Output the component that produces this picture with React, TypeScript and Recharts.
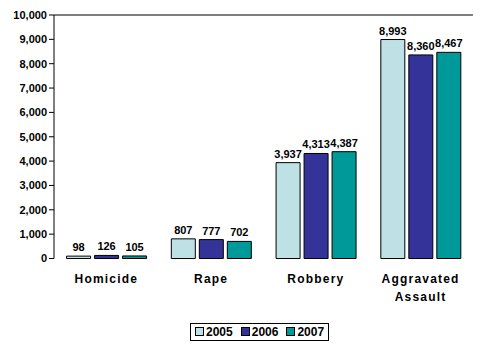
import React from 'react';
import {
  BarChart,
  Bar,
  XAxis,
  YAxis,
  Legend,
  LabelList,
  ReferenceLine,
  Text
} from 'recharts';

const categories = ['Homicide', 'Rape', 'Robbery', 'Aggravated Assault'];
const values2005 = [98, 807, 3937, 8993];
const values2006 = [126, 777, 4313, 8360];
const values2007 = [105, 702, 4387, 8467];
const yTicks = [0, 1000, 2000, 3000, 4000, 5000, 6000, 7000, 8000, 9000, 10000];
const edgeTicks = [0, 1, 2, 3, 4];

const series = [
  { key: 'y2005', name: '2005', color: '#BDE1E4' },
  { key: 'y2006', name: '2006', color: '#333399' },
  { key: 'y2007', name: '2007', color: '#009999' }
];

const data = categories.map((c, i) => ({
  category: c,
  y2005: values2005[i],
  y2006: values2006[i],
  y2007: values2007[i]
}));

const FONT = '"Liberation Sans", Arial, sans-serif';
const fmt = (v: number) => v.toLocaleString('en-US');

const CategoryTick = (props: any) => {
  const { x, y, payload } = props;
  return (
    <Text
      x={x}
      y={y + 8}
      width={90}
      textAnchor="middle"
      verticalAnchor="start"
      lineHeight={18}
      style={{ fontFamily: FONT, fontSize: 12, fontWeight: 'bold', letterSpacing: 1.2 }}
      fill="#000"
    >
      {payload.value}
    </Text>
  );
};

const LegendBox = () => (
  <div
    style={{
      display: 'inline-flex',
      alignItems: 'center',
      border: '1px solid #000',
      padding: '1px 4px',
      fontFamily: FONT,
      fontSize: 12,
      fontWeight: 'bold',
      background: '#fff'
    }}
  >
    {series.map((s, i) => (
      <span key={s.key} style={{ display: 'inline-flex', alignItems: 'center', marginLeft: i ? 8 : 0 }}>
        <span style={{ width: 7, height: 7, background: s.color, border: '1px solid #000', marginRight: 2 }} />
        {s.name}
      </span>
    ))}
  </div>
);

export default function App() {
  return (
    <div style={{ position: 'absolute', left: 0, top: 0, width: 500, height: 350, background: '#fff' }}>
      <BarChart
        width={500}
        height={350}
        data={data}
        margin={{ top: 15, right: 27, left: 0, bottom: 28 }}
        barGap={4}
        barCategoryGap="12%"
      >
        <XAxis
          xAxisId="edges"
          type="number"
          domain={[0, 4]}
          ticks={edgeTicks}
          allowDataOverflow
          height={0}
          tickSize={5}
          tickFormatter={() => ''}
          stroke="#000"
        />
        <XAxis
          xAxisId="cat"
          dataKey="category"
          axisLine={false}
          tickLine={false}
          interval={0}
          height={45}
          tick={<CategoryTick />}
        />
        <YAxis
          width={54}
          domain={[0, 10000]}
          ticks={yTicks}
          tickFormatter={fmt}
          tickSize={5}
          stroke="#000"
          tick={{ fill: '#000', fontFamily: FONT, fontSize: 11, fontWeight: 'bold' }}
        />
        <ReferenceLine xAxisId="cat" y={10000} stroke="#000" />
        <ReferenceLine xAxisId="edges" x={4} stroke="#000" />
        <Legend
          verticalAlign="bottom"
          content={<LegendBox />}
          wrapperStyle={{ top: 322, left: 190, width: 'auto', bottom: 'auto' }}
        />
        {series.map((s) => (
          <Bar
            key={s.key}
            xAxisId="cat"
            dataKey={s.key}
            name={s.name}
            fill={s.color}
            stroke="#000"
            strokeWidth={1}
            isAnimationActive={false}
          >
            <LabelList
              dataKey={s.key}
              position="top"
              offset={5}
              formatter={(v: any) => fmt(Number(v))}
              style={{ fontFamily: FONT, fontSize: 11, fontWeight: 'bold', fill: '#000' }}
            />
          </Bar>
        ))}
      </BarChart>
    </div>
  );
}
